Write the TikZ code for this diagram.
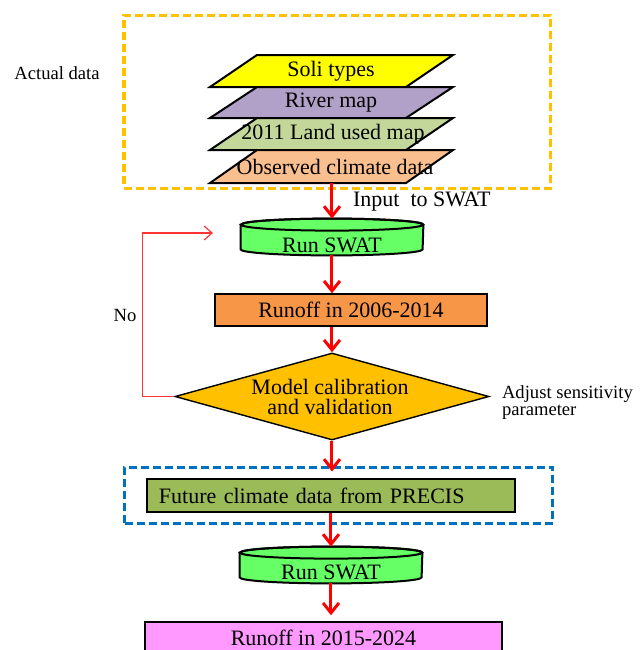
\documentclass[tikz,border=0pt]{standalone}
\usepackage{fontspec}
\setmainfont{Liberation Serif}
\usepackage{xcolor}
\usetikzlibrary{shapes.geometric,arrows.meta}
\definecolor{soilyellow}{HTML}{FFFF00}
\definecolor{riverpurple}{HTML}{B1A0C7}
\definecolor{landgreen}{HTML}{C4D79B}
\definecolor{climatepeach}{HTML}{FABF8F}
\definecolor{swatgreen}{HTML}{66FF66}
\definecolor{runofforange}{HTML}{F79646}
\definecolor{calibgold}{HTML}{FFC000}
\definecolor{precisolive}{HTML}{9BBB59}
\definecolor{runoffpink}{HTML}{FF99FF}
\definecolor{frameorange}{HTML}{FFC000}
\definecolor{frameblue}{HTML}{0070C0}

\begin{document}
\begin{tikzpicture}[x=0.5pt, y=-0.5pt,
    bigtext/.style={font=\fontsize{11}{10}\selectfont},
    smalltext/.style={font=\fontsize{9.3}{8.5}\selectfont},
    layer/.style={draw, line width=1pt},
    swatbox/.style={minimum width=91pt, minimum height=18pt, inner sep=0pt},
    swatdisk/.style={draw, line width=1pt, fill=swatgreen},
    process/.style={draw, line width=0.7pt, minimum height=16pt, inner sep=0pt, bigtext},
    decision/.style={diamond, draw, line width=0.7pt, fill=calibgold, inner sep=0pt},
    flow/.style={draw=red, line width=1.5pt, -{Straight Barb[length=5pt,width=8pt]}},
    dashframe/.style={draw, line width=1.5pt, dash pattern=on 4pt off 2pt, inner sep=0pt}]
    \useasboundingbox (0,0) rectangle (641,650);

    % input data frame
    \node[dashframe, draw=frameorange, minimum width=213.5pt, minimum height=86.5pt] (dataframe) at (337.5,101.5) {};
    \node[smalltext] (actual) at (57,73) {Actual data};

    % data layers
    \draw[layer, fill=soilyellow] (210,87) -- (406,87) -- (453,55) -- (257,55) -- cycle;
    \node[bigtext] (soil) at (331,71) {Soli types};
    \draw[layer, fill=riverpurple] (210,118) -- (406,118) -- (453,87) -- (257,87) -- cycle;
    \node[bigtext] (river) at (331,102.5) {River map};
    \draw[layer, fill=landgreen] (210,150) -- (406,150) -- (453,118) -- (257,118) -- cycle;
    \node[bigtext] (land) at (333,134) {2011 Land used map};
    \draw[layer, fill=climatepeach] (210,183) -- (406,183) -- (453,150) -- (257,150) -- cycle;
    \node[bigtext] (climate) at (335,166.5) {Observed climate data};
    \coordinate (layersouth) at (332,183);

    % first SWAT run
    \node[swatbox] (swat1) at (332,237) {};
    \draw[swatdisk] ([yshift=-3pt]swat1.north west) -- ([yshift=3pt]swat1.south west)
        arc[start angle=180, end angle=360, x radius=45.5pt, y radius=3pt]
        -- ([yshift=-3pt]swat1.north east)
        arc[start angle=0, end angle=180, x radius=45.5pt, y radius=3pt] -- cycle;
    \draw[line width=1pt] ([yshift=-3pt]swat1.north) ellipse [x radius=45.5pt, y radius=3pt];
    \node[bigtext] (swat1text) at (332,245) {Run SWAT};

    % calibration part
    \node[process, fill=runofforange, minimum width=136pt] (runoff1) at (351,310) {Runoff in 2006-2014};
    \node[decision, minimum width=157pt, minimum height=43.5pt] (calib) at (332,396.5) {};
    \node[bigtext, align=center] (calibtext) at (330,397) {Model calibration\\and validation};
    \node[smalltext, align=left, anchor=west] (adjust) at (495,403) {Adjust sensitivity\\parameter};

    % future part
    \node[dashframe, draw=frameblue, minimum width=214pt, minimum height=28pt] (precisframe) at (339,495) {};
    \node[process, fill=precisolive, minimum width=184pt, minimum height=16.5pt, text width=172pt,
        inner xsep=6pt, align=left] (precis) at (331,495.5) {Future climate data from PRECIS};

    % second SWAT run
    \node[swatbox] (swat2) at (331,565) {};
    \draw[swatdisk] ([yshift=-3pt]swat2.north west) -- ([yshift=3pt]swat2.south west)
        arc[start angle=180, end angle=360, x radius=45.5pt, y radius=3pt]
        -- ([yshift=-3pt]swat2.north east)
        arc[start angle=0, end angle=180, x radius=45.5pt, y radius=3pt] -- cycle;
    \draw[line width=1pt] ([yshift=-3pt]swat2.north) ellipse [x radius=45.5pt, y radius=3pt];
    \node[bigtext] (swat2text) at (331,572) {Run SWAT};
    \node[process, fill=runoffpink, minimum width=178.5pt] (runoff2) at (323.5,638) {Runoff in 2015-2024};

    % arrows
    \draw[flow] (layersouth) -- (swat1.north);
    \node[bigtext, anchor=west] (input) at (346,202) {Input\ \ to SWAT};
    \draw[flow] (swat1.south) -- (swat1.south |- runoff1.north);
    \draw[flow] (calib.north |- runoff1.south) -- (calib.north);
    \coordinate (precisin) at ([yshift=-3pt]precisframe.north);
    \draw[flow] (calib.south) -- (calib.south |- precisin);
    \draw[flow] (swat2.north |- precis.south) -- (swat2.north);
    \draw[flow, shorten >=3pt] (swat2.south) -- (swat2.south |- runoff2.north);

    % back to SWAT
    \coordinate (noloop) at (213,233);
    \draw[red!80, line width=0.6pt, -{Straight Barb[length=4pt,width=7pt]}] (calib.west) -- ++(-32,0) |- (noloop);
    \node[smalltext] (no) at (125,315) {No};
\end{tikzpicture}
\end{document}
